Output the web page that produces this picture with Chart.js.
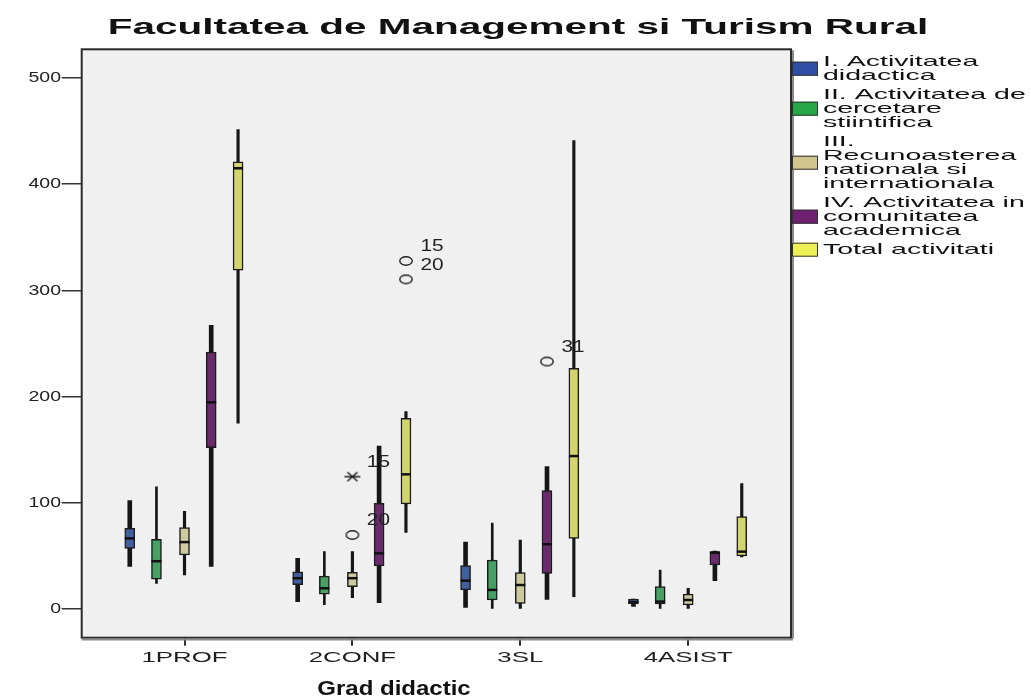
<!DOCTYPE html>
<html>
<head>
<meta charset="utf-8">
<script src="https://cdn.jsdelivr.net/npm/chart.js@4.4.1/dist/chart.umd.min.js"></script>
<style>
html,body{margin:0;padding:0;background:#fff;}
canvas{display:block;}
</style>
</head>
<body>
<canvas id="c" width="1031" height="698"></canvas>
<script>
// ---------------- DATA ----------------
const chartTitle = 'Facultatea de Management si Turism Rural';
const xAxisTitle = 'Grad didactic';
const categories = ['1PROF', '2CONF', '3SL', '4ASIST'];
const yTickValues = [0, 100, 200, 300, 400, 500];
const seriesLabels = [
  ['I. Activitatea', 'didactica'],
  ['II. Activitatea de', 'cercetare', 'stiintifica'],
  ['III.', 'Recunoasterea', 'nationala si', 'internationala'],
  ['IV. Activitatea in', 'comunitatea', 'academica'],
  ['Total activitati']
];
// each entry: [min, Q1, median, Q3, max] for 1PROF, 2CONF, 3SL, 4ASIST
const activDidactica   = [[40, 57, 66.5, 76, 102], [7, 23, 29, 35, 47.7], [1.6, 18, 26.7, 41, 63], [2.5, 4.7, 6.5, 9.4, 9.4]];
const activCercetare   = [[24, 28, 45, 65.6, 115], [4, 14, 19.5, 31, 54], [0.6, 8.5, 18, 46, 81], [0.6, 4.7, 7, 21, 36.7]];
const recunoastere     = [[32, 51, 63, 76.6, 92], [10.6, 21, 29, 34.5, 54], [0.6, 5.3, 22.6, 34.2, 65], [0.6, 3.8, 8.5, 14, 19.5]];
const activComunitate  = [[40, 152, 194.6, 242, 267], [6, 40.5, 52.4, 99.5, 153.5], [9, 33.6, 61, 111.5, 134], [26.7, 41.4, 53, 54, 54.5]];
const totalActivitati  = [[175, 319, 415, 421, 451.5], [72, 99, 126.8, 179.5, 186], [11.6, 66.5, 144, 226.6, 441], [49, 50, 54, 87, 118]];
// outliers (category 1-based, series 1-based)
const outlierCategory = [2, 2, 2, 2, 3];
const outlierSeries   = [3, 3, 5, 5, 4];
const outlierValue    = [69.7, 124.6, 327.7, 310.4, 233];
const outlierCase     = ['20', '15', '15', '20', '31'];
const outlierExtreme  = [false, true, false, false, false];

// ---------------- STYLE ----------------
const allSeries = [activDidactica, activCercetare, recunoastere, activComunitate, totalActivitati];
const seriesOffset = [-0.326, -0.167, 0, 0.159, 0.319];
const boxColors = ['#41609f', '#48a062', '#cfc99f', '#6a2b6c', '#d3d36f'];
const swatchColors = ['#2f4fa6', '#27a846', '#d1c48c', '#6f1f6f', '#eeee55'];
const whiskerWidths = [4, 2, 2.5, 4, 2.5];
const FONT = '"Liberation Sans", Arial, sans-serif';

function stretchText(ctx, text, x, y, sx, align, baseline) {
  ctx.save();
  ctx.translate(x, y);
  ctx.scale(sx, 1);
  ctx.textAlign = align;
  ctx.textBaseline = baseline || 'alphabetic';
  ctx.fillText(text, 0, 0);
  ctx.restore();
}

function makeEllipse() {
  const c = document.createElement('canvas');
  c.width = 16; c.height = 12;
  const g = c.getContext('2d');
  g.strokeStyle = '#222'; g.lineWidth = 1.4;
  g.beginPath(); g.ellipse(8, 6, 6.2, 4.2, 0, 0, Math.PI * 2); g.stroke();
  return c;
}
function makeStar() {
  const c = document.createElement('canvas');
  c.width = 20; c.height = 12;
  const g = c.getContext('2d');
  g.strokeStyle = '#222'; g.lineWidth = 1.6;
  g.beginPath();
  g.moveTo(2, 6); g.lineTo(18, 6);
  g.moveTo(5, 1.5); g.lineTo(15, 10.5);
  g.moveTo(5, 10.5); g.lineTo(15, 1.5);
  g.stroke();
  return c;
}

// ---------------- DATASETS ----------------
const datasets = [];
const boxDatasetIdx = [];
allSeries.forEach((ser, s) => {
  datasets.push({
    type: 'bar',
    data: ser.map((b, i) => ({ x: i + 1 + seriesOffset[s], y: [b[0], b[4]] })),
    backgroundColor: '#161616',
    borderWidth: 0,
    grouped: false,
    barThickness: whiskerWidths[s],
    maxBarThickness: whiskerWidths[s],
    order: 3
  });
});
allSeries.forEach((ser, s) => {
  boxDatasetIdx.push(datasets.length);
  datasets.push({
    type: 'bar',
    label: seriesLabels[s].join(' '),
    data: ser.map((b, i) => ({ x: i + 1 + seriesOffset[s], y: [b[1], b[3]], med: b[2] })),
    backgroundColor: boxColors[s],
    borderColor: '#1c1c1c',
    borderWidth: 1.5,
    borderSkipped: false,
    grouped: false,
    barThickness: 10,
    maxBarThickness: 10,
    order: 2
  });
});
const ellipseImg = makeEllipse();
const starImg = makeStar();
const outlierIdx = [];
[false, true].forEach(ext => {
  outlierIdx.push(datasets.length);
  const pts = [];
  outlierValue.forEach((v, k) => {
    if (outlierExtreme[k] === ext) {
      pts.push({ x: outlierCategory[k] + seriesOffset[outlierSeries[k] - 1], y: v, label: outlierCase[k] });
    }
  });
  datasets.push({
    type: 'scatter',
    data: pts,
    pointStyle: ext ? starImg : ellipseImg,
    pointRadius: 6,
    showLine: false,
    order: 1
  });
});

// ---------------- PLUGIN ----------------
const spssPlugin = {
  id: 'spss',
  beforeDraw(chart) {
    const { ctx, chartArea: a } = chart;
    ctx.save();
    ctx.fillStyle = '#ffffff';
    ctx.fillRect(0, 0, chart.width, chart.height);
    ctx.fillStyle = '#f0f0f0';
    ctx.fillRect(a.left, a.top, a.right - a.left, a.bottom - a.top);
    ctx.restore();
  },
  afterDatasetsDraw(chart) {
    const { ctx } = chart;
    const y = chart.scales.y;
    ctx.save();
    // medians
    ctx.strokeStyle = '#111';
    ctx.lineWidth = 2.5;
    boxDatasetIdx.forEach(di => {
      const meta = chart.getDatasetMeta(di);
      const data = chart.data.datasets[di].data;
      meta.data.forEach((el, i) => {
        const py = y.getPixelForValue(data[i].med);
        ctx.beginPath();
        ctx.moveTo(el.x - el.width / 2, py);
        ctx.lineTo(el.x + el.width / 2, py);
        ctx.stroke();
      });
    });
    // outlier labels
    ctx.fillStyle = '#222';
    ctx.font = '16px ' + FONT;
    outlierIdx.forEach(di => {
      const meta = chart.getDatasetMeta(di);
      const data = chart.data.datasets[di].data;
      meta.data.forEach((el, i) => {
        stretchText(ctx, data[i].label, el.x + 26, el.y - 14, 1.3, 'center', 'middle');
      });
    });
    ctx.restore();
  },
  afterDraw(chart) {
    const { ctx, chartArea: a } = chart;
    ctx.save();
    // frame
    ctx.strokeStyle = '#2a2a2a';
    ctx.lineWidth = 2;
    ctx.strokeRect(a.left, a.top, a.right - a.left, a.bottom - a.top);
    ctx.strokeStyle = '#8a8a8a';
    ctx.lineWidth = 2;
    ctx.beginPath(); ctx.moveTo(a.right + 2, a.top + 1); ctx.lineTo(a.right + 2, a.bottom + 1); ctx.stroke();
    ctx.beginPath(); ctx.moveTo(a.left, a.bottom + 1.8); ctx.lineTo(a.right + 2, a.bottom + 1.8); ctx.stroke();

    ctx.fillStyle = '#1e1e1e';
    // y tick labels
    ctx.font = '15px ' + FONT;
    chart.scales.y.ticks.forEach(t => {
      const py = chart.scales.y.getPixelForValue(t.value);
      stretchText(ctx, String(t.value), 61, py, 1.3, 'right', 'middle');
    });
    // x tick labels
    chart.scales.x.ticks.forEach(t => {
      const px = chart.scales.x.getPixelForValue(t.value);
      stretchText(ctx, categories[Math.round(t.value) - 1], px, 658, 1.72, 'center', 'middle');
    });
    // title
    ctx.fillStyle = '#111';
    ctx.font = 'bold 22px ' + FONT;
    stretchText(ctx, chartTitle, 518, 33.5, 1.84, 'center', 'alphabetic');
    // x axis title
    ctx.font = 'bold 20px ' + FONT;
    stretchText(ctx, xAxisTitle, 394, 695, 1.2, 'center', 'alphabetic');

    // legend
    ctx.font = '15px ' + FONT;
    let ly = 61.7;
    seriesLabels.forEach((lines, s) => {
      const first = ly;
      lines.forEach((ln, k) => {
        ctx.fillStyle = '#111';
        stretchText(ctx, ln, 823, ly, 1.9, 'left', 'middle');
        if (k < lines.length - 1) ly += 14;
      });
      const mid = (first + ly) / 2;
      ctx.fillStyle = swatchColors[s];
      ctx.fillRect(792, mid - 7, 26, 14);
      ctx.strokeStyle = '#333';
      ctx.lineWidth = 1;
      ctx.strokeRect(792.5, mid - 6.5, 25, 13);
      ly += 19;
    });
    ctx.restore();
  }
};

// ---------------- CHART ----------------
new Chart(document.getElementById('c'), {
  type: 'bar',
  data: { datasets },
  options: {
    responsive: false,
    animation: false,
    devicePixelRatio: 1,
    layout: { padding: { top: 49.3, right: 240, left: 0, bottom: 0 } },
    plugins: {
      legend: { display: false },
      title: { display: false },
      tooltip: { enabled: false }
    },
    scales: {
      x: {
        type: 'linear',
        offset: false,
        min: 0.3877,
        max: 4.6123,
        afterBuildTicks: s => { s.ticks = categories.map((c, i) => ({ value: i + 1 })); },
        afterFit: s => { s.height = 60.3; },
        ticks: { display: false },
        grid: { offset: false, drawOnChartArea: false, drawTicks: true, tickLength: 8, color: '#333', lineWidth: 2 },
        border: { display: false }
      },
      y: {
        type: 'linear',
        min: -27.02,
        max: 527.03,
        afterBuildTicks: s => { s.ticks = yTickValues.map(v => ({ value: v })); },
        afterFit: s => { s.width = 81.7; },
        ticks: { display: false },
        grid: { drawOnChartArea: false, drawTicks: true, tickLength: 20, color: '#333', lineWidth: 1.5 },
        border: { display: false }
      }
    }
  },
  plugins: [spssPlugin]
});
</script>
</body>
</html>
